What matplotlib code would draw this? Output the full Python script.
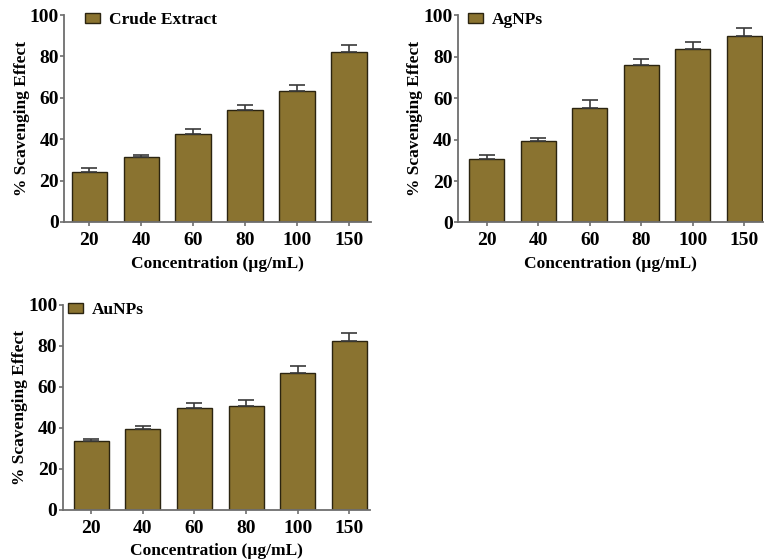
import matplotlib.pyplot as plt
from matplotlib.patches import Patch

plt.rcParams['font.family'] = ['Liberation Serif', 'DejaVu Serif']
plt.rcParams['font.weight'] = 'bold'

concentrations = ['20', '40', '60', '80', '100', '150']

crude_mean = [24.3, 31.2, 42.7, 54.1, 63.3, 82.1]
crude_err = [1.6, 1.2, 2.2, 2.4, 2.9, 3.4]

agnp_mean = [30.8, 39.5, 55.1, 76.1, 83.6, 89.9]
agnp_err = [1.6, 1.4, 3.8, 2.6, 3.2, 3.8]

aunp_mean = [33.3, 39.5, 49.4, 50.6, 66.5, 82.4]
aunp_err = [1.3, 1.3, 2.5, 3.1, 3.7, 3.6]

BAR_COLOR = '#8a7330'
EDGE_COLOR = '#2b2410'
AXIS_COLOR = '#6e6e6e'


def plotScavengingPanel(ax, means, errs, label, xlim, legend_x):
    xs = range(len(concentrations))
    ax.bar(xs, means, width=0.68, color=BAR_COLOR, edgecolor=EDGE_COLOR,
           linewidth=1.0, zorder=2)
    # error bars only point upward
    ax.errorbar(xs, means, yerr=[[0] * len(errs), errs], fmt='none',
                ecolor='#3a3a3a', elinewidth=1.2, capsize=6, capthick=1.2,
                zorder=3)
    ax.set_xlim(*xlim)
    ax.set_ylim(0, 100)
    ax.set_yticks([0, 20, 40, 60, 80, 100])
    ax.set_xticks(list(xs))
    ax.set_xticklabels(concentrations)
    for side in ['top', 'right']:
        ax.spines[side].set_visible(False)
    for side in ['left', 'bottom']:
        ax.spines[side].set_color(AXIS_COLOR)
        ax.spines[side].set_linewidth(1.3)
    ax.tick_params(axis='y', labelsize=14, length=3, width=1.2,
                   color=AXIS_COLOR, pad=1)
    ax.tick_params(axis='x', labelsize=14, length=3, width=1.2,
                   color=AXIS_COLOR, pad=4)
    ax.set_xlabel('Concentration (µg/mL)', fontsize=12.5, fontweight='bold',
                  labelpad=5)
    ax.set_ylabel('% Scavenging Effect', fontsize=12.5, fontweight='bold',
                  labelpad=0)
    handle = Patch(facecolor=BAR_COLOR, edgecolor=EDGE_COLOR, linewidth=1.0)
    ax.legend([handle], [label], loc='upper left',
              bbox_to_anchor=(legend_x, 1.03), frameon=False,
              handlelength=0.9, handleheight=0.55, handletextpad=0.5,
              borderaxespad=0, borderpad=0.2,
              prop={'size': 12.5, 'weight': 'bold'})


fig = plt.figure(figsize=(7.66, 5.59), dpi=100)

ax1 = fig.add_axes([0.084, 0.603, 0.400, 0.370])
ax2 = fig.add_axes([0.598, 0.602, 0.398, 0.371])
ax3 = fig.add_axes([0.082, 0.088, 0.401, 0.367])

plotScavengingPanel(ax1, crude_mean, crude_err, 'Crude Extract',
                    (-0.48, 5.42), 0.055)
plotScavengingPanel(ax2, agnp_mean, agnp_err, 'AgNPs', (-0.56, 5.36), 0.02)
plotScavengingPanel(ax3, aunp_mean, aunp_err, 'AuNPs', (-0.55, 5.4), 0.005)

fig.savefig('out.png', dpi=100)
